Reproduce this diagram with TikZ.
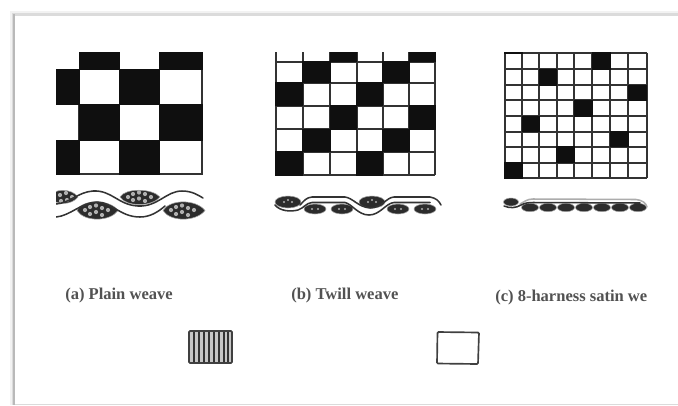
\documentclass[tikz,border=0pt]{standalone}
\usepackage{fontspec}
\setmainfont{Liberation Serif}
\definecolor{ink}{gray}{0.06}
\definecolor{rule}{gray}{0.2}
\tikzset{
  x=0.75pt,y=-0.75pt,
  cell/.style={fill=ink,draw=ink,line width=0.6pt},
  gridline/.style={draw=rule,line width=1.4pt},
  thin frame/.style={draw=rule,line width=0.9pt},
  yarn/.style={draw=rule,line width=1.15pt,line cap=round},
  lens/.style={fill=ink!88!white,draw=gray!70,line width=0.4pt},
  dot mark/.style={fill=gray!62!white,draw=none},
  caption/.style={font=\fontsize{12.4pt}{14pt}\selectfont\bfseries,text=black!68,inner sep=0pt,anchor=west},
  squarebox/.style={draw=black!75,line width=1.25pt,rounded corners=0.8pt}
}
\begin{document}
\begin{tikzpicture}
\useasboundingbox (0,0) rectangle (678,405);
\fill[white] (0,0) rectangle (678,405);
% page edge
\fill[gray!10] (10,11) rectangle (678,405);
\fill[gray!28] (11.5,13) rectangle (678,405);
\fill[gray!55] (12.5,13.8) rectangle (15,405);
\fill[white] (15,15.5) rectangle (678,403.5);

% (a) plain weave
\def\ax{{56,79,119,159,202}}
\def\ay{{52,69,104,140,174}}
\draw[thin frame] (79,174) -- (202,174) -- (202,69);
\draw[thin frame] (79,69) -- (79,174);
\foreach \c/\r in {1/0,3/0,0/1,2/1,1/2,3/2,0/3,2/3}{
  \pgfmathsetmacro\xa{\ax[\c]}\pgfmathsetmacro\xb{\ax[\c+1]}
  \pgfmathsetmacro\ya{\ay[\r]}\pgfmathsetmacro\yb{\ay[\r+1]}
  \fill[cell] (\xa,\ya) rectangle (\xb,\yb);
}
% plain weave section
\begin{scope}
\clip (56,185) rectangle (206,225);
\fill[lens] (50,197.5) .. controls (52,188) and (72,188) .. (78,197) .. controls (72,205) and (56,206) .. (50,197.5) -- cycle;
\fill[lens] (120,197) .. controls (125,188) and (152,188) .. (160,197) .. controls (152,207) and (126,207) .. (120,197) -- cycle;
\fill[lens] (77,210.5) .. controls (82,199) and (110,199) .. (118,210.5) .. controls (110,222) and (84,222) .. (77,210.5) -- cycle;
\fill[lens] (163,210.5) .. controls (170,199) and (196,199) .. (205,210.5) .. controls (196,222) and (170,222) .. (163,210.5) -- cycle;
\foreach \p/\q in {60/195,66/193,72/197,61/201,67/200,
  128/197,133/194,139/192.5,145/194,151/197,133/200,139/198.5,145/201,
  85/210,90/207,96/205.5,102/208,108/210,90/214,96/212,102/215,
  171/210,176/207,182/205.5,188/208,194/210,176/214,182/212,188/215}
  \fill[dot mark] (\p,\q) circle (2.1);
\draw[yarn] (56,204) .. controls (70,203) and (78,192) .. (93,191) .. controls (112,190) and (118,205) .. (138,206) .. controls (158,207) and (166,191) .. (182,191) .. controls (192,191) and (198,195) .. (203,198);
\draw[yarn] (56,217) .. controls (70,216) and (82,202) .. (97,202) .. controls (112,202) and (120,217) .. (140,217) .. controls (150,217) and (158,212) .. (165,206);
\end{scope}

% (b) twill weave
\def\bx{{275.7,302.7,330,356.7,382.7,409,435}}
\def\by{{61.7,82.7,105.7,129,151.7,175}}
\foreach \v in {0,...,5}{\pgfmathsetmacro\yy{\by[\v]}\draw[gridline] (275.7,\yy) -- (435,\yy);}
\foreach \v in {0,...,6}{\pgfmathsetmacro\xx{\bx[\v]}\draw[gridline] (\xx,52) -- (\xx,175);}
\foreach \c/\r in {1/0,4/0,0/1,3/1,2/2,5/2,1/3,4/3,0/4,3/4}{
  \pgfmathsetmacro\xa{\bx[\c]}\pgfmathsetmacro\xb{\bx[\c+1]}
  \pgfmathsetmacro\ya{\by[\r]}\pgfmathsetmacro\yb{\by[\r+1]}
  \fill[cell] (\xa,\ya) rectangle (\xb,\yb);
}
\fill[cell] (330,52) rectangle (356.7,61.7);
\fill[cell] (409,52) rectangle (435,61.7);
% twill section
\foreach \p/\q/\a/\b in {288/202/13/6,372/202/13/6,315/209/11/5,342/209/11/5,398/209/11/5,425/209/11/5}
  \fill[lens] (\p,\q) ellipse ({\a} and {\b});
\foreach \p/\q in {284/202,288/200,292/202,368/202,372/200,376/202,312/209,318/209,339/209,345/209,395/209,401/209,422/209,428/209}
  \fill[dot mark] (\p,\q) circle (1.1);
\draw[yarn] (300,205) .. controls (304,201) and (306,197.5) .. (312,197) -- (345,197) .. controls (353,198) and (358,207) .. (370,208) .. controls (382,208) and (386,197.5) .. (394,197) -- (430,197) .. controls (436,198) and (439,201) .. (441,205);
\draw[yarn] (275,205) .. controls (280,211) and (290,212) .. (298,210) .. controls (304,208) and (306,203) .. (312,202.5) -- (345,202.5) .. controls (352,204) and (358,215) .. (369,215) .. controls (380,215) and (386,203) .. (394,202.5) -- (430,202.5);

% (c) satin weave
\def\cx{{504.7,522,539.3,556.7,574.3,592,610,628.3,646.7}}
\def\cy{{52.7,69.3,85,100,116,131.7,146.7,162.7,178.3}}
\foreach \v in {0,...,8}{\pgfmathsetmacro\yy{\cy[\v]}\draw[gridline] (504.7,\yy) -- (646.7,\yy);}
\foreach \v in {0,...,8}{\pgfmathsetmacro\xx{\cx[\v]}\draw[gridline] (\xx,52.7) -- (\xx,178.3);}
\foreach \c/\r in {5/0,2/1,7/2,4/3,1/4,6/5,3/6,0/7}{
  \pgfmathsetmacro\xa{\cx[\c]}\pgfmathsetmacro\xb{\cx[\c+1]}
  \pgfmathsetmacro\ya{\cy[\r]}\pgfmathsetmacro\yb{\cy[\r+1]}
  \fill[cell] (\xa,\ya) rectangle (\xb,\yb);
}
\fill[cell] (504.7,52) rectangle (522,53.5);
% satin section
\fill[lens] (511,202) ellipse (7.5 and 4);
\foreach \p in {530,548,566,584,602,620,638}
  \fill[lens] (\p,207.5) ellipse (8.5 and 4.2);
\draw[yarn,draw=gray!65] (520,204) .. controls (524,202) and (527,199) .. (533,199) -- (636,199.5) .. controls (642,200) and (646,203) .. (647,207);
\draw[yarn] (504,206) .. controls (510,208.5) and (516,208) .. (521,205) .. controls (525,203) and (528,202.5) .. (533,202.5) -- (640,203);

% captions
\node[caption] (capa) at (65,295.5) {(a) Plain weave};
\node[caption] (capb) at (291,296) {(b) Twill weave};
\node[caption] (capc) at (495,297.5) {(c) 8-harness satin we};

% key squares
\fill[gray!45] (189,331) rectangle (232,363);
\foreach \v in {194,199,204,209,214,219,224,228}
  \draw[draw=rule,line width=1.2pt] (\v,331.5) -- (\v,362.5);
\draw[squarebox] (189,331) rectangle (232,363);
\draw[squarebox] (437.5,332) -- (479,332.5) -- (478,364) -- (437,363.5) -- cycle;
\end{tikzpicture}
\end{document}
